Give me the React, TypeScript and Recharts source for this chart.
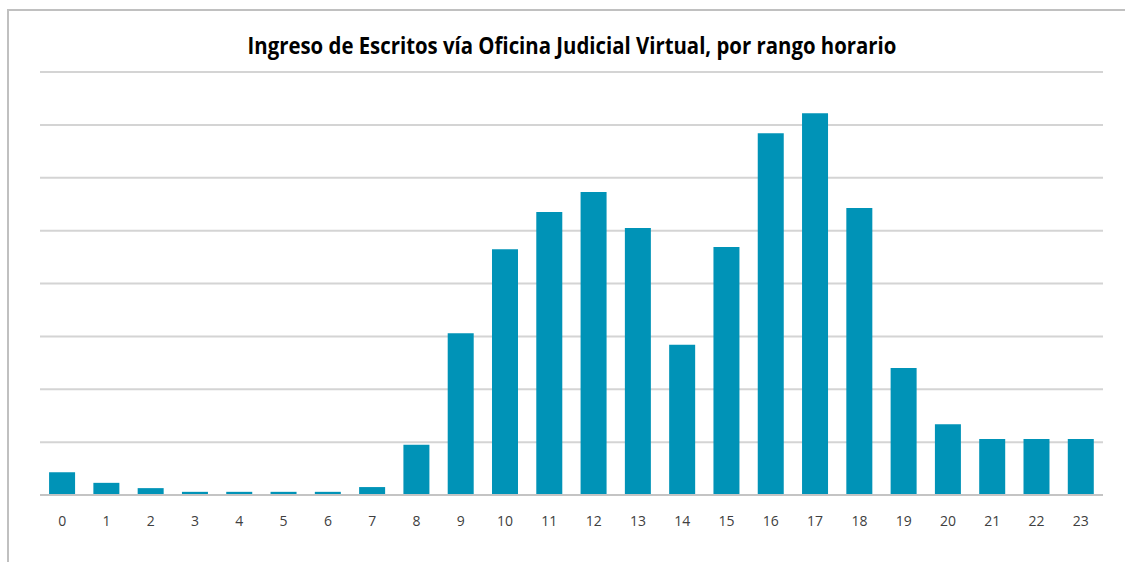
import { BarChart, Bar, XAxis, YAxis, CartesianGrid } from "recharts";

const TITLE = "Ingreso de Escritos vía Oficina Judicial Virtual, por rango horario";

const HOURS = [
  "0", "1", "2", "3", "4", "5", "6", "7", "8", "9", "10", "11",
  "12", "13", "14", "15", "16", "17", "18", "19", "20", "21", "22", "23",
];

// the original has no y labels, unit = one gridline step
const ESCRITOS = [
  430, 230, 130, 60, 60, 60, 60, 150, 950, 3060, 4650, 5350,
  5730, 5050, 2840, 4690, 6840, 7220, 5430, 2400, 1340, 1060, 1060, 1060,
];

const Y_TICKS = [0, 1000, 2000, 3000, 4000, 5000, 6000, 7000, 8000];

const BAR_COLOR = "#0093b7";
const GRID_COLOR = "#d4d4d4";
const FONT = "'Open Sans', sans-serif";

const data = HOURS.map((hour, i) => ({ hour, value: ESCRITOS[i] }));

export default function App() {
  return (
    <div
      style={{
        position: "absolute",
        left: 0,
        top: 0,
        width: 1125,
        height: 562,
        background: "#fff",
        overflow: "hidden",
      }}
    >
      {/* frame of the original image */}
      <div
        style={{
          position: "absolute",
          left: 7,
          top: 9,
          width: 1200,
          height: 600,
          borderLeft: "2px solid #c0c0c0",
          borderTop: "2px solid #c0c0c0",
        }}
      />
      <div
        style={{
          position: "absolute",
          left: 0,
          top: 29,
          width: 1144,
          textAlign: "center",
          fontFamily: FONT,
          fontWeight: 700,
          fontSize: 23,
          color: "#000",
          transform: "scaleX(0.885)",
          transformOrigin: "572px 0",
          whiteSpace: "nowrap",
        }}
      >
        {TITLE}
      </div>
      <div style={{ position: "absolute", left: 0, top: 0 }}>
        <BarChart
          width={1125}
          height={562}
          data={data}
          margin={{ top: 72, right: 22, bottom: 37, left: 40 }}
          barCategoryGap="20.5%"
        >
          <CartesianGrid vertical={false} stroke={GRID_COLOR} strokeWidth={2} />
          <XAxis
            dataKey="hour"
            height={30}
            tickLine={false}
            axisLine={{ stroke: "#c4c4c4", strokeWidth: 2 }}
            tick={{ fontSize: 14, fill: "#404040", fontFamily: FONT }}
            tickMargin={15}
            interval={0}
          />
          <YAxis hide domain={[0, 8000]} ticks={Y_TICKS} />
          <Bar dataKey="value" fill={BAR_COLOR} isAnimationActive={false} />
        </BarChart>
      </div>
    </div>
  );
}
